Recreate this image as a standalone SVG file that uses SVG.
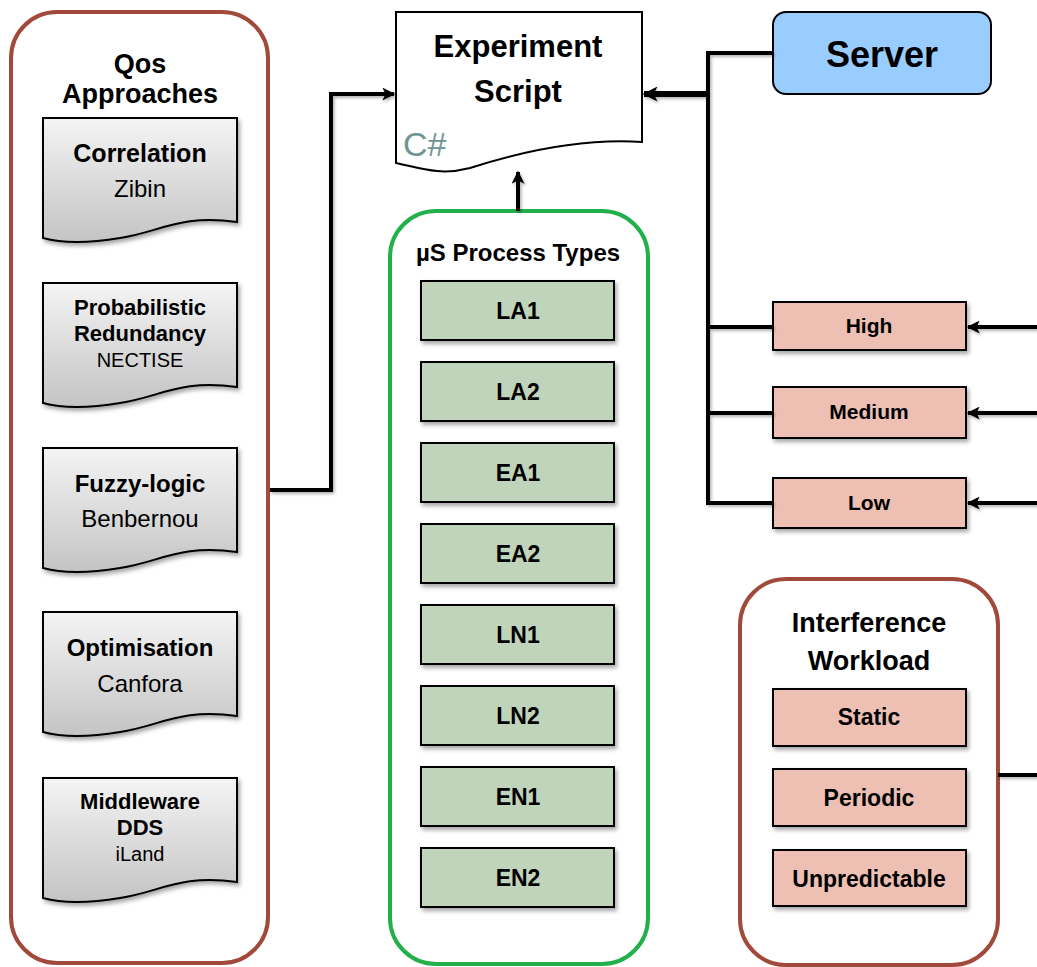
<svg xmlns="http://www.w3.org/2000/svg" width="1037" height="967" viewBox="0 0 1037 967">
  <defs>
    <linearGradient id="docFill" x1="0" y1="0" x2="0" y2="1">
      <stop offset="0" stop-color="#f4f4f4"/>
      <stop offset="1" stop-color="#c4c4c4"/>
    </linearGradient>
    <filter id="shadow" x="-10%" y="-10%" width="125%" height="130%">
      <feDropShadow dx="2" dy="3" stdDeviation="2" flood-color="#000" flood-opacity="0.35"/>
    </filter>
    <filter id="lineShadow" x="-5%" y="-5%" width="110%" height="110%">
      <feDropShadow dx="1.5" dy="2" stdDeviation="1.5" flood-color="#000" flood-opacity="0.3"/>
    </filter>
    <marker id="arrow" viewBox="0 0 10 10" refX="9" refY="5" markerWidth="15" markerHeight="13" markerUnits="userSpaceOnUse" orient="auto">
      <path d="M0,0 L10,5 L0,10 L2.5,5 Z" fill="#000"/>
    </marker>
    <marker id="arrowBig" viewBox="0 0 10 10" refX="9" refY="5" markerWidth="17" markerHeight="15" markerUnits="userSpaceOnUse" orient="auto">
      <path d="M0,0 L10,5 L0,10 L2.5,5 Z" fill="#000"/>
    </marker>
  </defs>
  <style>
    text { font-family: "Liberation Sans", Arial, sans-serif; fill: #000; text-anchor: middle; }
    .b { font-weight: bold; }
    .container { fill: #fff; stroke-width: 4; }
    .brown { stroke: #a14a3c; }
    .green { stroke: #22b04b; }
    .doc { fill: url(#docFill); stroke: #000; stroke-width: 2; filter: url(#shadow); }
    .pink { fill: #eec0b4; stroke: #000; stroke-width: 2; filter: url(#shadow); }
    .sage { fill: #c0d3bb; stroke: #000; stroke-width: 2; filter: url(#shadow); }
    .wire { fill: none; stroke: #000; stroke-width: 4; }
  </style>

  <rect width="1037" height="967" fill="#fff"/>

  <!-- QoS approaches column -->
  <g id="qos-approaches">
    <rect class="container brown" x="11" y="12" width="257" height="951" rx="46"/>
    <text class="b" x="140" y="73" font-size="27">Qos</text>
    <text class="b" x="140" y="103" font-size="27">Approaches</text>
  </g>
  <g id="doc-correlation">
    <path class="doc" d="M43,118 H237 V222 C180,214 160,232 120,238 C90,243 65,244 43,238 Z"/>
    <text class="b" x="140" y="162" font-size="25">Correlation</text>
    <text x="140" y="197" font-size="24">Zibin</text>
  </g>
  <g id="doc-probabilistic">
    <path class="doc" d="M43,283 H237 V387 C180,379 160,397 120,403 C90,408 65,409 43,403 Z"/>
    <text class="b" x="140" y="315" font-size="22">Probabilistic</text>
    <text class="b" x="140" y="341" font-size="22">Redundancy</text>
    <text x="140" y="367" font-size="20">NECTISE</text>
  </g>
  <g id="doc-fuzzy">
    <path class="doc" d="M43,448 H237 V552 C180,544 160,562 120,568 C90,573 65,574 43,568 Z"/>
    <text class="b" x="140" y="492" font-size="24">Fuzzy-logic</text>
    <text x="140" y="527" font-size="24">Benbernou</text>
  </g>
  <g id="doc-optimisation">
    <path class="doc" d="M43,612 H237 V716 C180,708 160,726 120,732 C90,737 65,738 43,732 Z"/>
    <text class="b" x="140" y="656" font-size="24">Optimisation</text>
    <text x="140" y="692" font-size="24">Canfora</text>
  </g>
  <g id="doc-middleware">
    <path class="doc" d="M43,778 H237 V882 C180,874 160,892 120,898 C90,903 65,904 43,898 Z"/>
    <text class="b" x="140" y="809" font-size="22">Middleware</text>
    <text class="b" x="140" y="835" font-size="22">DDS</text>
    <text x="140" y="861" font-size="20">iLand</text>
  </g>

  <!-- Experiment script document -->
  <g id="experiment-script">
    <path d="M396,12 H642 V142 C580,138 520,152 470,168 C440,176 420,168 396,163 Z" fill="#fff" stroke="#000" stroke-width="2"/>
    <text class="b" x="518" y="57" font-size="31">Experiment</text>
    <text class="b" x="518" y="102" font-size="31">Script</text>
    <text x="403" y="156" font-size="34" style="text-anchor:start; fill:#6e9494;">C#</text>
  </g>

  <!-- Server -->
  <g id="server">
    <rect x="773" y="12" width="218" height="82" rx="13" fill="#99ccff" stroke="#000" stroke-width="2"/>
    <text class="b" x="882" y="67" font-size="36">Server</text>
  </g>

  <!-- Load levels -->
  <g id="level-high">
    <rect class="pink" x="773" y="302" width="193" height="48"/>
    <text class="b" x="869" y="333" font-size="21">High</text>
  </g>
  <g id="level-medium">
    <rect class="pink" x="773" y="387" width="193" height="51"/>
    <text class="b" x="869" y="419" font-size="21">Medium</text>
  </g>
  <g id="level-low">
    <rect class="pink" x="773" y="478" width="193" height="50"/>
    <text class="b" x="869" y="510" font-size="21">Low</text>
  </g>

  <!-- Interference workload -->
  <g id="interference-workload">
    <rect class="container brown" x="740" y="579" width="258" height="386" rx="46"/>
    <text class="b" x="869" y="632" font-size="27">Interference</text>
    <text class="b" x="869" y="670" font-size="27">Workload</text>
  </g>
  <g id="workload-static">
    <rect class="pink" x="773" y="689" width="193" height="57"/>
    <text class="b" x="869" y="725" font-size="23">Static</text>
  </g>
  <g id="workload-periodic">
    <rect class="pink" x="773" y="769" width="193" height="57"/>
    <text class="b" x="869" y="806" font-size="23">Periodic</text>
  </g>
  <g id="workload-unpredictable">
    <rect class="pink" x="773" y="850" width="193" height="56"/>
    <text class="b" x="869" y="887" font-size="23">Unpredictable</text>
  </g>

  <!-- Process types -->
  <g id="process-types">
    <rect class="container green" x="390" y="211" width="258" height="753" rx="46"/>
    <text class="b" x="518" y="261" font-size="24">µS Process Types</text>
  </g>
  <g id="type-la1"><rect class="sage" x="421" y="281" width="193" height="59"/><text class="b" x="518" y="319" font-size="23">LA1</text></g>
  <g id="type-la2"><rect class="sage" x="421" y="362" width="193" height="59"/><text class="b" x="518" y="400" font-size="23">LA2</text></g>
  <g id="type-ea1"><rect class="sage" x="421" y="443" width="193" height="59"/><text class="b" x="518" y="481" font-size="23">EA1</text></g>
  <g id="type-ea2"><rect class="sage" x="421" y="524" width="193" height="59"/><text class="b" x="518" y="562" font-size="23">EA2</text></g>
  <g id="type-ln1"><rect class="sage" x="421" y="605" width="193" height="59"/><text class="b" x="518" y="643" font-size="23">LN1</text></g>
  <g id="type-ln2"><rect class="sage" x="421" y="686" width="193" height="59"/><text class="b" x="518" y="724" font-size="23">LN2</text></g>
  <g id="type-en1"><rect class="sage" x="421" y="767" width="193" height="59"/><text class="b" x="518" y="805" font-size="23">EN1</text></g>
  <g id="type-en2"><rect class="sage" x="421" y="848" width="193" height="59"/><text class="b" x="518" y="886" font-size="23">EN2</text></g>

  <!-- Connectors -->
  <g id="connectors" filter="url(#lineShadow)">
    <polyline class="wire" points="270,490 331,490 331,94 394,94" marker-end="url(#arrow)"/>
    <line class="wire" x1="518" y1="211" x2="518" y2="172" marker-end="url(#arrow)"/>
    <polyline class="wire" points="773,53 708,53 708,503 773,503"/>
    <line class="wire" x1="708" y1="327" x2="773" y2="327"/>
    <line class="wire" x1="708" y1="413" x2="773" y2="413"/>
    <line x1="708" y1="94" x2="644" y2="94" stroke="#000" stroke-width="6" marker-end="url(#arrowBig)"/>
    <line class="wire" x1="1037" y1="327" x2="968" y2="327" marker-end="url(#arrow)"/>
    <line class="wire" x1="1037" y1="413" x2="968" y2="413" marker-end="url(#arrow)"/>
    <line class="wire" x1="1037" y1="503" x2="968" y2="503" marker-end="url(#arrow)"/>
    <line class="wire" x1="998" y1="775" x2="1037" y2="775"/>
  </g>
</svg>
